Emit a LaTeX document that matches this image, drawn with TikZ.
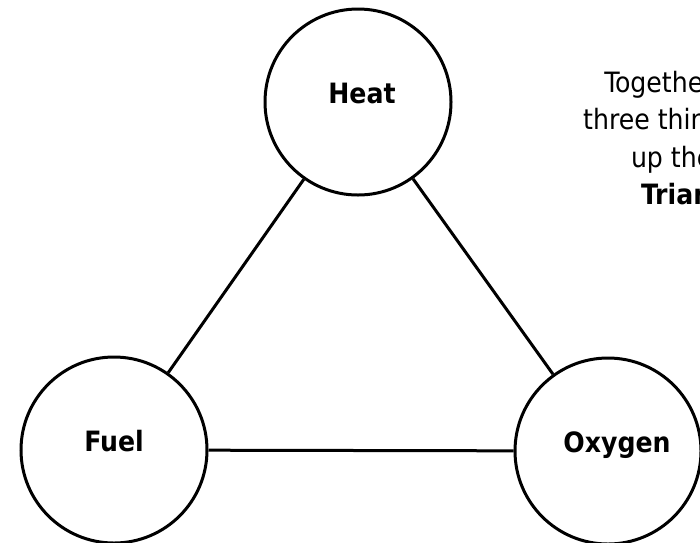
\documentclass[tikz,border=0pt]{standalone}
\usepackage{fontspec}
\setmainfont{DejaVu Sans Condensed}
\tikzset{element/.style={circle,draw,line width=3pt,minimum size=186pt,inner sep=0pt,
	 font=\fontsize{28}{37.5}\selectfont\bfseries,text height=20pt,text depth=18pt},
	 link/.style={line width=3pt}
	 }

\begin{document}
\begin{tikzpicture}[x=1pt,y=-1pt]
	\useasboundingbox (0,0) rectangle (700,542);
	\clip (0,0) rectangle (700,542);
	\node[element] (heat) at (358,102) {\hspace*{8pt}Heat};
	\node[element] (fuel) at (114,450) {Fuel};
	\node[element] (oxygen) at (608,451) {\hspace*{18pt}Oxygen};
	\node (note) [align=center,inner sep=0pt,font=\fontsize{28}{37.5}\selectfont] at (698,141)
	  {Together these\\three things make\\up the Fire\\\textbf{Triangle}};
	\draw[link] (heat) to (fuel) to (oxygen) to (heat);
\end{tikzpicture}
\end{document}
